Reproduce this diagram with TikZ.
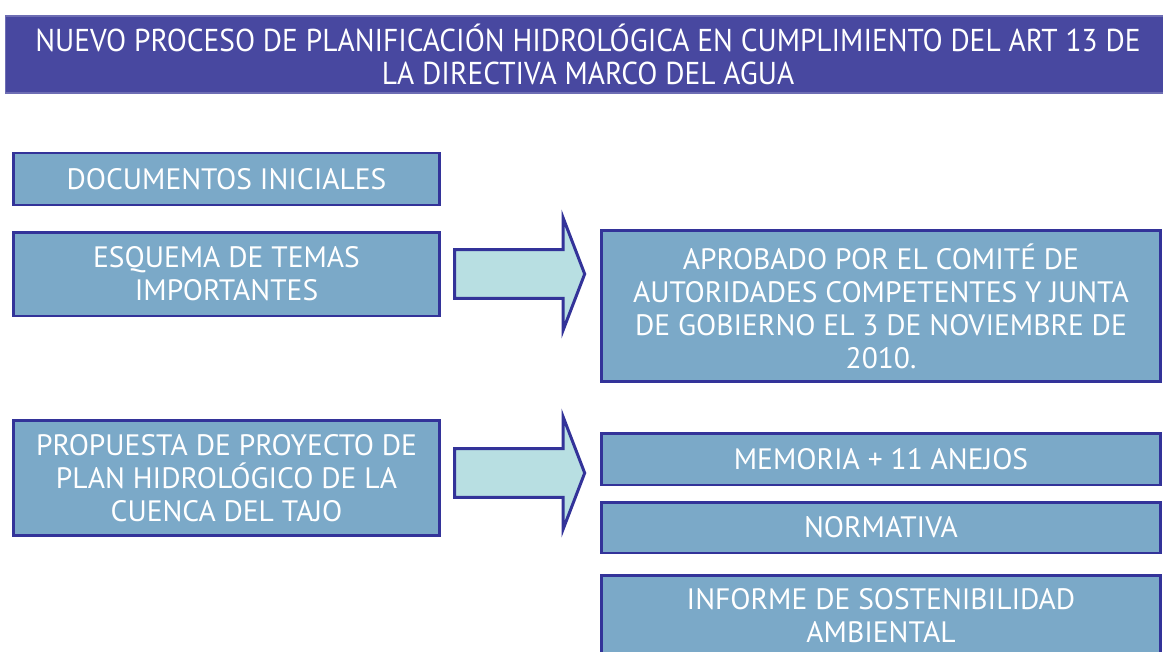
\documentclass[tikz,border=0pt]{standalone}
\usepackage{fontspec}
\setmainfont{PT Sans}
\newfontfamily\headfont{PT Sans}[FakeStretch=0.93]
\usetikzlibrary{positioning, shapes.arrows}
\definecolor{titleblue}{RGB}{72,72,160}
\definecolor{titleedge}{RGB}{110,110,180}
\definecolor{boxfill}{RGB}{123,169,200}
\definecolor{boxline}{RGB}{51,51,153}
\definecolor{arrowfill}{RGB}{184,223,226}

\tikzset{
  box/.style={draw=boxline, line width=1.7pt, fill=boxfill, text=white,
    align=center, inner sep=0pt, font=\fontsize{16.8}{18.8}\selectfont},
  bigarrow/.style={single arrow, draw=boxline, line width=1.7pt, fill=arrowfill,
    minimum height=2.6cm, minimum width=0pt, inner xsep=0pt, inner ysep=0.46cm,
    single arrow head extend=0.64cm, single arrow tip angle=138},
}

\begin{document}
\begin{tikzpicture}[x=0.02cm, y=-0.02cm]
 \useasboundingbox (0,0) rectangle (1163,652);
 \clip (0,0) rectangle (1163,652);
 % title bar
 \node[draw=titleedge, line width=0.8pt, fill=titleblue, text=white, align=center,
   minimum width=23.3cm, minimum height=1.54cm, inner sep=0pt,
   font=\headfont\fontsize{18}{18.8}\selectfont] (title) at (588,54.5)
   {NUEVO PROCESO DE PLANIFICACIÓN HIDROLÓGICA EN CUMPLIMIENTO DEL ART 13 DE\\
    LA DIRECTIVA MARCO DEL AGUA};
 % left column
 \node[box, minimum width=8.54cm, minimum height=1.04cm] (docs) at (226.5,179) {DOCUMENTOS INICIALES};
 \node[box, minimum width=8.54cm, minimum height=1.68cm] (etemas) at (226.5,274) {ESQUEMA DE TEMAS\\IMPORTANTES};
 \node[box, minimum width=8.54cm, minimum height=2.32cm] (propuesta) at (226.5,478) {PROPUESTA DE PROYECTO DE\\PLAN HIDROLÓGICO DE LA\\CUENCA DEL TAJO};
 % arrows
 \node[bigarrow] (arrowa) at (515,274) {};
 \node[bigarrow] (arrowb) at (515,473) {};
 % right column
 \node[box, minimum width=11.2cm, minimum height=3.04cm] (aprobado) at (881,306) {APROBADO POR EL COMITÉ DE\\AUTORIDADES COMPETENTES Y JUNTA\\DE GOBIERNO EL 3 DE NOVIEMBRE DE\\2010.};
 \node[box, minimum width=11.2cm, minimum height=1.04cm] (memoria) at (881,459) {MEMORIA + 11 ANEJOS};
 \node[box, minimum width=11.2cm, minimum height=1.02cm] (normativa) at (881,527.5) {NORMATIVA};
 \node[box, minimum width=11.2cm, minimum height=1.64cm] (informe) at (881,616) {INFORME DE SOSTENIBILIDAD\\AMBIENTAL};
\end{tikzpicture}
\end{document}
